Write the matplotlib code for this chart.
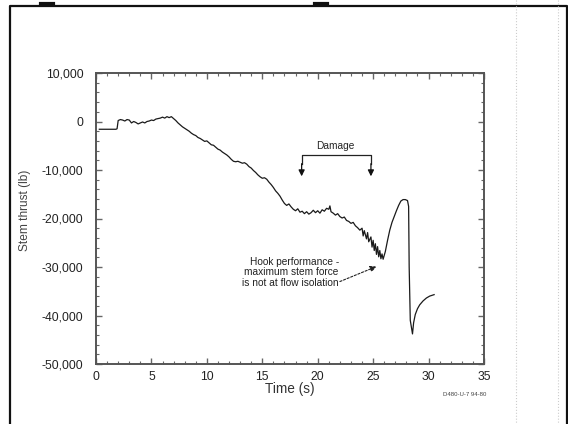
import matplotlib.pyplot as plt
import matplotlib.ticker as mticker
from matplotlib.lines import Line2D

plt.rcParams['font.family'] = ['Liberation Sans', 'DejaVu Sans']

# stem thrust trace (time in s, thrust in lb)
time_s = [0.3, 1.8, 1.9, 2.0, 2.2, 2.4, 2.6, 2.8, 3.0, 3.2, 3.4, 3.6, 3.8, 4.0,
          4.2, 4.4, 4.6, 4.8, 5.0, 5.2, 5.4, 5.6, 5.8, 6.0, 6.2, 6.4, 6.6, 6.8,
          7.0, 7.2, 7.4, 7.6, 7.8, 8.0, 8.2, 8.4, 8.6, 8.8, 9.0, 9.2, 9.4, 9.6,
          9.8, 10.0, 10.2, 10.4, 10.6, 10.8, 11.0, 11.2, 11.4, 11.6, 11.8, 12.0,
          12.2, 12.4, 12.6, 12.8, 13.0, 13.2, 13.4, 13.6, 13.8, 14.0, 14.2, 14.4,
          14.6, 14.8, 15.0, 15.2, 15.4, 15.6, 15.8, 16.0, 16.2, 16.4, 16.6, 16.8,
          17.0, 17.2, 17.4, 17.6, 17.8, 18.0, 18.2, 18.4, 18.6, 18.8, 19.0, 19.2,
          19.4, 19.6, 19.8, 20.0, 20.2, 20.4, 20.6, 20.8, 21.0, 21.1, 21.2, 21.4,
          21.6, 21.8, 22.0, 22.2, 22.4, 22.6, 22.8, 23.0, 23.2, 23.4, 23.6, 23.8,
          24.0, 24.1, 24.2, 24.4, 24.5, 24.6, 24.8, 24.9, 25.0, 25.1, 25.2, 25.3,
          25.4, 25.5, 25.6, 25.7, 25.8, 25.9, 26.0, 26.1, 26.3, 26.5, 26.7, 26.9,
          27.1, 27.3, 27.5, 27.7, 27.9, 28.1, 28.2, 28.25, 28.35, 28.55, 28.65,
          28.8, 29.0, 29.2, 29.5, 29.8, 30.1, 30.5]
thrust_lb = [-1600, -1600, -1500, 200, 400, 300, 100, 400, 300, -300, 0, -200,
             -500, -300, -100, -300, 0, 100, 300, 200, 500, 600, 700, 900, 700,
             1000, 800, 1000, 600, 200, -300, -700, -1100, -1400, -1700, -2000,
             -2400, -2700, -2900, -3300, -3500, -3800, -4100, -4000, -4400, -4800,
             -4900, -5300, -5700, -5900, -6300, -6600, -6900, -7300, -7800, -8200,
             -8300, -8200, -8400, -8600, -8500, -8800, -9300, -9600, -10100,
             -10500, -11000, -11400, -11700, -11600, -11900, -12500, -13000,
             -13600, -14300, -14800, -15400, -16200, -16900, -17300, -17000,
             -17600, -18100, -18400, -18000, -18700, -18500, -19000, -18600,
             -19100, -18800, -18300, -18800, -18400, -18900, -18200, -18500,
             -17900, -18100, -17400, -18600, -18900, -19300, -19000, -19600,
             -19900, -19700, -20400, -20600, -21000, -20800, -21500, -21900,
             -22400, -22000, -23600, -22500, -24200, -22900, -24800, -23800,
             -25900, -24500, -26600, -25200, -27400, -25800, -27900, -26600,
             -28300, -27300, -28400, -27600, -26800, -24500, -22400, -20800,
             -19600, -18400, -17300, -16400, -16100, -16100, -16300, -17500,
             -30000, -41000, -43800, -41500, -39800, -38600, -37800, -37000,
             -36400, -36000, -35700]

x_ticks = [0, 5, 10, 15, 20, 25, 30, 35]
y_ticks = [10000, 0, -10000, -20000, -30000, -40000, -50000]

fig = plt.figure(figsize=(5.68, 4.24), dpi=100)
ax = fig.add_axes([96 / 568, 1 - 364 / 424, 388 / 568, 291 / 424])

ax.plot(time_s, thrust_lb, color='#1a1a1a', lw=0.9)

ax.set_xlim(0, 35)
ax.set_ylim(-50000, 10000)
ax.set_xticks(x_ticks)
ax.set_yticks(y_ticks)
ax.xaxis.set_minor_locator(mticker.MultipleLocator(1))
ax.yaxis.set_minor_locator(mticker.MultipleLocator(2000))
ax.yaxis.set_major_formatter(mticker.FuncFormatter(lambda v, p: '{:,.0f}'.format(v)))
ax.tick_params(which='both', direction='in', top=True, right=True,
               colors='#666666', labelcolor='#222222', labelsize=8.7)
ax.tick_params(which='major', length=4, width=1, pad=5)
ax.tick_params(which='minor', length=2, width=0.8)
ax.tick_params(axis='y', pad=9)
for s in ax.spines.values():
    s.set_color('#555555')
    s.set_linewidth(1.4)

ax.set_xlabel('Time (s)', fontsize=9.8, color='#333333', labelpad=-1)
fig.text(25 / 568, 1 - 210 / 424, 'Stem thrust (lb)', rotation=90,
         fontsize=8.6, color='#444444', ha='center', va='center')
fig.text(465 / 568, 1 - 394 / 424, 'D480-U-7 94-80', fontsize=4.3,
         color='#444444', ha='center', va='center')

# damage window bracket
ax.text(21.6, -5000, 'Damage', fontsize=7.3, color='#222222', ha='center', va='center')
ax.plot([18.55, 18.55, 24.8, 24.8], [-8800, -6900, -6900, -8800], color='#222222', lw=0.9)
for tx in (18.55, 24.8):
    ax.annotate('', xy=(tx, -11300), xytext=(tx, -8700),
                arrowprops=dict(arrowstyle='-|>', color='#111111', lw=0.9,
                                mutation_scale=9, shrinkA=0, shrinkB=0))

ax.text(21.9, -31100, 'Hook performance -\nmaximum stem force\nis not at flow isolation',
        fontsize=7.3, color='#222222', ha='right', va='center', linespacing=1.05)
ax.annotate('', xy=(25.3, -29900), xytext=(22.0, -33000),
            arrowprops=dict(arrowstyle='-|>', color='#222222', lw=0.8,
                            linestyle=(0, (2, 1.5)), mutation_scale=9,
                            shrinkA=0, shrinkB=0))

# page frame and scan edges
def px_line(xs, ys, **kw):
    fig.add_artist(Line2D([x / 568 for x in xs], [1 - y / 424 for y in ys],
                          transform=fig.transFigure, **kw))

px_line([10, 10, 567, 567], [424, 6, 6, 424], color='#111111', lw=1.6)
px_line([516, 516], [0, 424], color='#cccccc', lw=0.8, linestyle=':')
px_line([558, 558], [0, 424], color='#cccccc', lw=0.8, linestyle=':')
px_line([41, 53], [3.5, 3.5], color='#111111', lw=3)
px_line([315, 327], [3.5, 3.5], color='#111111', lw=3)

fig.savefig('out.png', dpi=100)
